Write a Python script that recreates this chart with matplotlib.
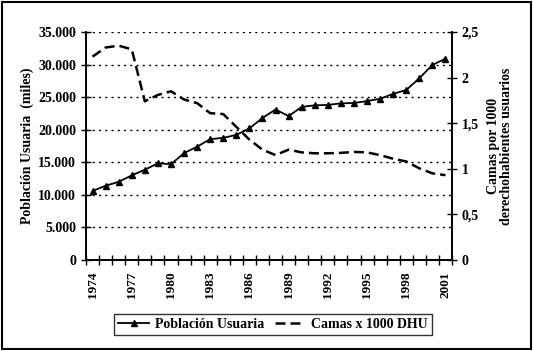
import matplotlib.pyplot as plt
import numpy as np
from matplotlib.patches import Rectangle
from matplotlib.ticker import FuncFormatter, MultipleLocator

plt.rcParams['font.family'] = ['Liberation Serif', 'DejaVu Serif']
plt.rcParams['font.weight'] = 'bold'

years = list(range(1974, 2002))
poblacion = [10600, 11400, 12000, 13000, 13850, 14850, 14700, 16400, 17400, 18550,
             18750, 19200, 20200, 21800, 23100, 22100, 23500, 23750, 23800, 24050,
             24100, 24400, 24750, 25500, 26100, 27900, 29950, 30900]
camas = [2.23, 2.33, 2.35, 2.31, 1.74, 1.81, 1.85, 1.76, 1.72, 1.61,
         1.60, 1.46, 1.32, 1.21, 1.15, 1.21, 1.18, 1.17, 1.17, 1.175,
         1.185, 1.18, 1.15, 1.11, 1.08, 1.005, 0.95, 0.93]
year_labels = [str(y) if (y - 1974) % 3 == 0 else '' for y in years]

fig = plt.figure(figsize=(5.33, 3.51), dpi=100)
ax = fig.add_axes([86/533, 1 - 260/351, (452-86)/533, (260-32)/351])
ax2 = ax.twinx()

x = np.arange(len(years))
l1, = ax.plot(x, poblacion, color='black', lw=1.3, marker='^', ms=5,
              label='Población Usuaria')
l2, = ax2.plot(x, camas, color='black', lw=1.8, ls=(0, (4, 2)),
               label='Camas x 1000 DHU')

ax.set_xlim(-0.5, len(years) - 0.5)
ax.set_ylim(0, 35000)
ax2.set_ylim(0, 2.5)

ax.set_xticks(x)
ax.set_xticklabels(year_labels, rotation=90, fontsize=9.5, fontweight='bold')
ax.tick_params(axis='x', length=0, pad=8)
ax.set_xticks(np.arange(-0.5, len(years)), minor=True)
ax.tick_params(axis='x', which='minor', direction='inout', length=7, width=1)

ax.yaxis.set_major_locator(MultipleLocator(5000))
ax.yaxis.set_major_formatter(FuncFormatter(lambda v, p: f'{int(v):,}'.replace(',', '.')))
ax.tick_params(axis='y', direction='inout', length=7, width=1, labelsize=10)
ax.grid(axis='y', color='black', ls=(0, (1.5, 3)), lw=1)

ax2.yaxis.set_major_locator(MultipleLocator(0.5))
ax2.yaxis.set_major_formatter(FuncFormatter(lambda v, p: f'{v:g}'.replace('.', ',')))
ax2.tick_params(axis='y', direction='inout', length=7, width=1, labelsize=10)

for a in (ax, ax2):
    a.spines['top'].set_visible(False)
    for s in ('left', 'right', 'bottom'):
        a.spines[s].set_linewidth(1.2)
    for lab in a.get_yticklabels():
        lab.set_fontweight('bold')

ax.set_ylabel('Población Usuaria  (miles)', fontsize=10, fontweight='bold', labelpad=3)
ax2.set_ylabel('Camas por 1000\nderechohabientes usuarios', fontsize=10,
               fontweight='bold', labelpad=6, linespacing=1.0)

leg = fig.legend(handles=[l1, l2], loc='center', bbox_to_anchor=(273/533, 1 - 324.5/351),
                 ncol=2, fontsize=10, frameon=True, fancybox=False, handlelength=2.2,
                 columnspacing=0.8, handletextpad=0.4, borderpad=0.3)
leg.get_frame().set_edgecolor('black')
leg.get_frame().set_linewidth(1)
for t in leg.get_texts():
    t.set_fontweight('bold')

fig.patches.append(Rectangle((0.004, 0.006), 0.992, 0.988, transform=fig.transFigure,
                             fill=False, edgecolor='black', lw=1.5))

fig.savefig('out.png', dpi=100)
